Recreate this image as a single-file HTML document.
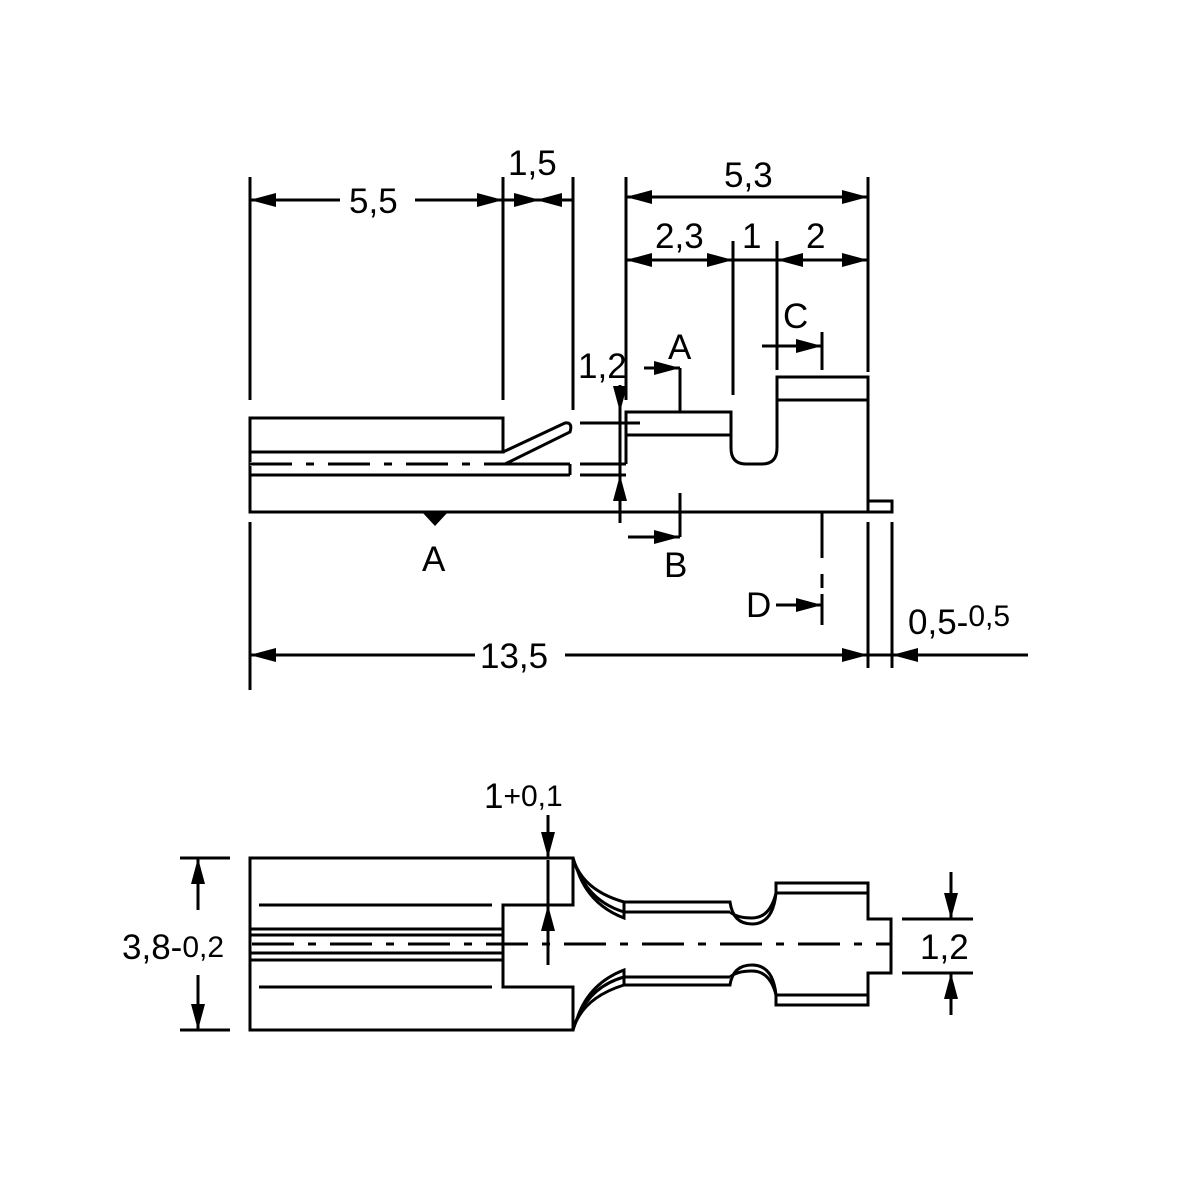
<!DOCTYPE html>
<html><head><meta charset="utf-8"><style>
html,body{margin:0;padding:0;background:#fff}
svg{display:block}
text{font-family:"Liberation Sans",Arial,sans-serif;font-size:35px;fill:#000}
</style></head><body>
<svg width="1200" height="1200" viewBox="0 0 1200 1200" xmlns="http://www.w3.org/2000/svg">
<defs>
<marker id="a" viewBox="0 0 26 14" refX="26" refY="7" markerWidth="26" markerHeight="14" markerUnits="userSpaceOnUse" orient="auto"><path d="M0,0 L26,7 L0,14 Z" fill="#000"/></marker>
</defs>
<g stroke="#000" stroke-width="3" fill="none">
<line x1="250" y1="177" x2="250" y2="400"/>
<line x1="503" y1="177" x2="503" y2="400"/>
<line x1="573" y1="177" x2="573" y2="410"/>
<line x1="626" y1="177" x2="626" y2="400"/>
<line x1="868" y1="177" x2="868" y2="372"/>
<line x1="733" y1="241" x2="733" y2="395"/>
<line x1="777" y1="241" x2="777" y2="370"/>
<line x1="340" y1="200" x2="250" y2="200" marker-end="url(#a)"/>
<line x1="415" y1="200" x2="503" y2="200" marker-end="url(#a)"/>
<line x1="503" y1="200" x2="573" y2="200"/>
<line x1="503" y1="200" x2="540" y2="200" marker-end="url(#a)"/>
<line x1="573" y1="200" x2="536" y2="200" marker-end="url(#a)"/>
<line x1="626" y1="197" x2="868" y2="197" marker-end="url(#a)"/>
<line x1="868" y1="197" x2="626" y2="197" marker-end="url(#a)"/>
<line x1="733" y1="260" x2="626" y2="260" marker-end="url(#a)"/>
<line x1="626" y1="260" x2="733" y2="260" marker-end="url(#a)"/>
<line x1="733" y1="260" x2="777" y2="260"/>
<line x1="868" y1="260" x2="777" y2="260" marker-end="url(#a)"/>
<line x1="777" y1="260" x2="868" y2="260" marker-end="url(#a)"/>
<line x1="822" y1="332" x2="822" y2="370"/>
<line x1="762" y1="346" x2="822" y2="346" marker-end="url(#a)"/>
<line x1="680" y1="368" x2="680" y2="412"/>
<line x1="644" y1="368" x2="680" y2="368" marker-end="url(#a)"/>
<line x1="620" y1="385" x2="620" y2="412" marker-end="url(#a)"/>
<line x1="620" y1="523" x2="620" y2="475" marker-end="url(#a)"/>
<line x1="620" y1="412" x2="620" y2="475"/>
<line x1="580" y1="423" x2="640" y2="423"/>
<line x1="580" y1="464" x2="626" y2="464"/>
<line x1="580" y1="475" x2="626" y2="475"/>
<rect x="250" y="418" width="253" height="34"/>
<line x1="250" y1="464" x2="570" y2="464"/>
<line x1="250" y1="475" x2="570" y2="475"/>
<line x1="570" y1="464" x2="570" y2="475"/>
<path d="M503,452 L565,423 Q573,422 570,432 L505,464"/>
<path d="M250,452 L250,512 L892,512 L892,501 L868,501 L868,377 L777,377 L777,448 Q777,464 762,464 L746,464 Q731,464 731,448 L731,412 L626,412 L626,464"/>
<line x1="777" y1="400" x2="868" y2="400"/>
<line x1="626" y1="435" x2="731" y2="435"/>
<line x1="868" y1="501" x2="868" y2="512"/>
<line x1="250" y1="464" x2="503" y2="464" stroke="#fff" stroke-width="4"/>
<line x1="250" y1="464" x2="505" y2="464" stroke-dasharray="42,14,8,14"/>
<line x1="680" y1="493" x2="680" y2="537"/>
<line x1="628" y1="537" x2="680" y2="537" marker-end="url(#a)"/>
<line x1="822" y1="512" x2="822" y2="625" stroke-dasharray="46,16,14,6"/>
<line x1="776" y1="605" x2="822" y2="605" marker-end="url(#a)"/>
<line x1="250" y1="522" x2="250" y2="690"/>
<line x1="868" y1="522" x2="868" y2="668"/>
<line x1="892" y1="522" x2="892" y2="668"/>
<line x1="475" y1="655" x2="250" y2="655" marker-end="url(#a)"/>
<line x1="565" y1="655" x2="868" y2="655" marker-end="url(#a)"/>
<line x1="868" y1="655" x2="892" y2="655"/>
<line x1="1028" y1="655" x2="892" y2="655" marker-end="url(#a)"/>

<line x1="180" y1="858" x2="230" y2="858"/>
<line x1="180" y1="1030" x2="230" y2="1030"/>
<line x1="198" y1="910" x2="198" y2="858" marker-end="url(#a)"/>
<line x1="198" y1="975" x2="198" y2="1030" marker-end="url(#a)"/>
<path d="M573,858 L250,858 L250,1030 L573,1030 L573,987 L503,987 L503,905 L573,905 Z"/>
<line x1="259" y1="905" x2="492" y2="905"/>
<line x1="259" y1="987" x2="492" y2="987"/>
<line x1="250" y1="929" x2="503" y2="929"/>
<line x1="250" y1="935" x2="503" y2="935"/>
<line x1="250" y1="953" x2="503" y2="953"/>
<line x1="250" y1="960" x2="503" y2="960"/>
<line x1="252" y1="944" x2="892" y2="944" stroke-dasharray="42,14,8,14"/>
<line x1="548" y1="815" x2="548" y2="858" marker-end="url(#a)"/>
<line x1="548" y1="860" x2="548" y2="965"/>
<line x1="548" y1="945" x2="548" y2="905" marker-end="url(#a)"/>
<path d="M573,858 Q582,890 624,902 L624,918 Q590,905 578,872"/>
<path d="M573,858 Q585,900 624,912"/>
<path d="M624,902 L730,902 Q733,924 752,924 Q773,924 776,893 L776,883 L868,883 L868,919 L891,919 L891,973 L868,973 L868,1005 L776,1005 L776,995 Q773,965 752,965 Q733,965 730,985 L624,985"/>
<line x1="624" y1="912" x2="730" y2="912"/>
<path d="M730,912 Q737,918 752,918 Q770,918 776,893"/>
<line x1="776" y1="893" x2="868" y2="893"/>
<path d="M573,1030 Q582,998 624,985 L624,970 Q590,983 578,1016"/>
<path d="M573,1030 Q585,988 624,977"/>
<line x1="624" y1="977" x2="730" y2="977"/>
<line x1="624" y1="985" x2="624" y2="970"/>
<path d="M730,977 Q737,971 752,971 Q770,971 776,995"/>
<line x1="776" y1="995" x2="868" y2="995"/>
<line x1="902" y1="919" x2="973" y2="919"/>
<line x1="902" y1="973" x2="973" y2="973"/>
<line x1="951" y1="872" x2="951" y2="919" marker-end="url(#a)"/>
<line x1="951" y1="1015" x2="951" y2="973" marker-end="url(#a)"/>
</g>
<path d="M422,512 L448,512 L435,526 Z" fill="#000"/>
<g>
<text x="349" y="213">5,5</text>
<text x="508" y="175">1,5</text>
<text x="724" y="187">5,3</text>
<text x="655" y="248">2,3</text>
<text x="742" y="248">1</text>
<text x="806" y="248">2</text>
<text x="783" y="328">C</text>
<text x="668" y="359">A</text>
<text x="578" y="378">1,2</text>
<text x="422" y="571">A</text>
<text x="664" y="577">B</text>
<text x="746" y="617">D</text>
<text x="480" y="668">13,5</text>
<text x="908" y="634">0,5-<tspan font-size="30" dy="-8">0,5</tspan></text>
<text x="484" y="808">1<tspan font-size="30" dy="-2">+0,1</tspan></text>
<text x="122" y="959">3,8-<tspan font-size="30" dy="-2">0,2</tspan></text>
<text x="920" y="959">1,2</text>
</g>
</svg>
</body></html>
